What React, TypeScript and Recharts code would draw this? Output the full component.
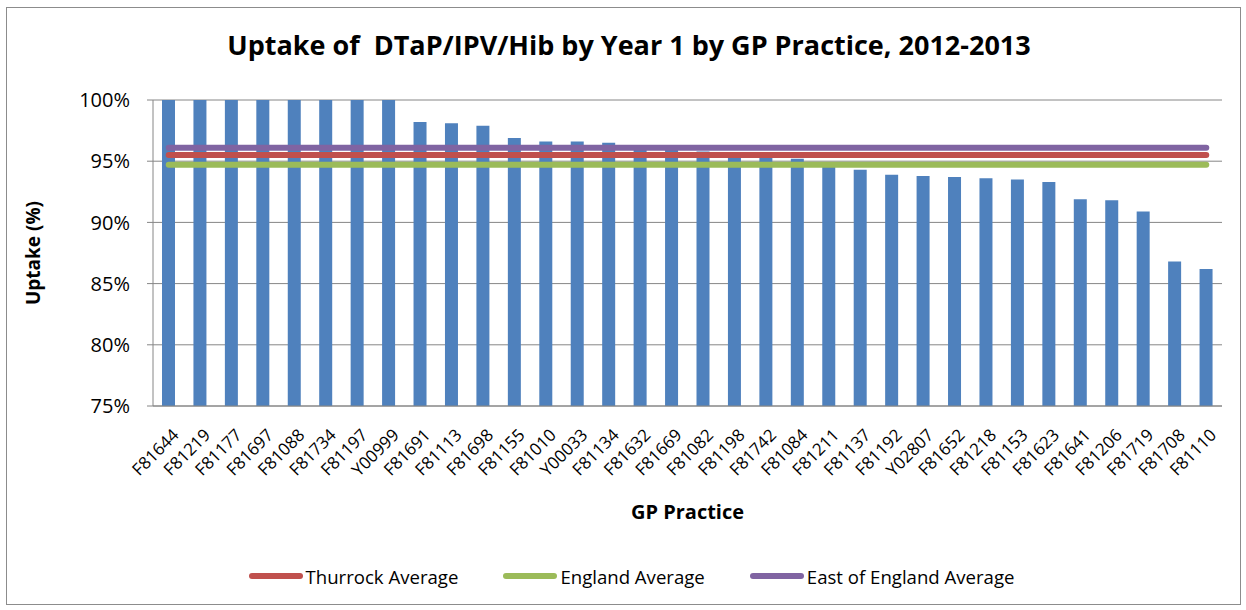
import {
  ComposedChart,
  Bar,
  Line,
  XAxis,
  YAxis,
  CartesianGrid,
  Legend,
} from "recharts";

const practices = [
  "F81644", "F81219", "F81177", "F81697", "F81088", "F81734", "F81197", "Y00999",
  "F81691", "F81113", "F81698", "F81155", "F81010", "Y00033", "F81134", "F81632",
  "F81669", "F81082", "F81198", "F81742", "F81084", "F81211", "F81137", "F81192",
  "Y02807", "F81652", "F81218", "F81153", "F81623", "F81641", "F81206", "F81719",
  "F81708", "F81110",
];

const uptake = [
  100, 100, 100, 100, 100, 100, 100, 100,
  98.2, 98.1, 97.9, 96.9, 96.6, 96.6, 96.5, 96.1,
  96.0, 95.8, 95.5, 95.4, 95.2, 94.7, 94.3, 93.9,
  93.8, 93.7, 93.6, 93.5, 93.3, 91.9, 91.8, 90.9,
  86.8, 86.2,
];

const thurrockAverage = 95.5;
const englandAverage = 94.7;
const eastOfEnglandAverage = 96.1;

const yTicks = [75, 80, 85, 90, 95, 100];

const FONT = "'Open Sans', 'DejaVu Sans', sans-serif";

const data = practices.map((name, i) => ({
  name,
  uptake: uptake[i],
  thurrock: thurrockAverage,
  england: englandAverage,
  east: eastOfEnglandAverage,
}));

const legendItems = [
  { label: "Thurrock Average", color: "#C0504D" },
  { label: "England Average", color: "#9BBB59" },
  { label: "East of England Average", color: "#8064A2" },
];

function AngledTick(props: any) {
  const { x, y, payload } = props;
  return (
    <g transform={`translate(${x + 7},${y + 26})`}>
      <text
        x={0}
        y={0}
        dy="0.35em"
        textAnchor="end"
        transform="rotate(-45)"
        fontSize={17}
        fontFamily={FONT}
        fill="#000"
      >
        {payload.value}
      </text>
    </g>
  );
}

function LegendBox() {
  return (
    <div
      style={{
        display: "flex",
        justifyContent: "center",
        alignItems: "center",
        gap: 45,
        height: 40,
        paddingLeft: 41,
        fontFamily: FONT,
        fontSize: 18.6,
        color: "#000",
      }}
    >
      {legendItems.map((item) => (
        <div key={item.label} style={{ display: "flex", alignItems: "center" }}>
          <svg width={54} height={10} style={{ marginRight: 3 }}>
            <line
              x1={3}
              y1={5}
              x2={51}
              y2={5}
              stroke={item.color}
              strokeWidth={6}
              strokeLinecap="round"
            />
          </svg>
          <span>{item.label}</span>
        </div>
      ))}
    </div>
  );
}

export default function App() {
  return (
    <div style={{ position: "absolute", left: 0, top: 0, width: 1246, height: 610, background: "#fff" }}>
      <div
        style={{
          position: "absolute",
          left: 6,
          top: 7,
          width: 1233,
          height: 596,
          border: "1px solid #8c8c8c",
        }}
      />
      <div
        style={{
          position: "absolute",
          top: 26,
          left: 0,
          width: 1258,
          textAlign: "center",
          fontFamily: FONT,
          fontWeight: 700,
          fontSize: 27,
          color: "#000",
        }}
      >
        Uptake of&nbsp; DTaP/IPV/Hib by Year 1 by GP Practice, 2012-2013
      </div>
      <ComposedChart
        width={1246}
        height={610}
        data={data}
        margin={{ top: 100, right: 24, bottom: 14, left: 0 }}
        barSize={13}
      >
        <CartesianGrid vertical={false} stroke="#868686" strokeWidth={1} />
        <XAxis
          dataKey="name"
          interval={0}
          height={150}
          tickLine={false}
          tickSize={0}
          tickMargin={0}
          axisLine={{ stroke: "#868686" }}
          tick={<AngledTick />}
          label={{
            value: "GP Practice",
            position: "insideBottom",
            offset: 37,
            style: { fontFamily: FONT, fontWeight: 700, fontSize: 20, fill: "#000" },
          }}
        />
        <YAxis
          width={153}
          domain={[75, 100]}
          ticks={yTicks}
          interval={0}
          tickFormatter={(v) => `${v}%`}
          tickSize={6}
          tickMargin={17}
          tickLine={{ stroke: "#868686" }}
          axisLine={{ stroke: "#868686" }}
          tick={{ fontFamily: FONT, fontSize: 20, fill: "#000" }}
          label={{
            value: "Uptake (%)",
            angle: -90,
            position: "insideLeft",
            offset: 33,
            style: { fontFamily: FONT, fontWeight: 700, fontSize: 19, fill: "#000", textAnchor: "middle" },
          }}
        />
        <Bar dataKey="uptake" fill="#4F81BD" isAnimationActive={false} legendType="none" />
        <Line
          dataKey="thurrock"
          name="Thurrock Average"
          stroke="#C0504D"
          strokeWidth={6}
          strokeLinecap="round"
          dot={false}
          activeDot={false}
          isAnimationActive={false}
        />
        <Line
          dataKey="england"
          name="England Average"
          stroke="#9BBB59"
          strokeWidth={6}
          strokeLinecap="round"
          dot={false}
          activeDot={false}
          isAnimationActive={false}
        />
        <Line
          dataKey="east"
          name="East of England Average"
          stroke="#8064A2"
          strokeWidth={6}
          strokeLinecap="round"
          dot={false}
          activeDot={false}
          isAnimationActive={false}
        />
        <Legend verticalAlign="bottom" height={40} content={<LegendBox />} />
      </ComposedChart>
    </div>
  );
}
